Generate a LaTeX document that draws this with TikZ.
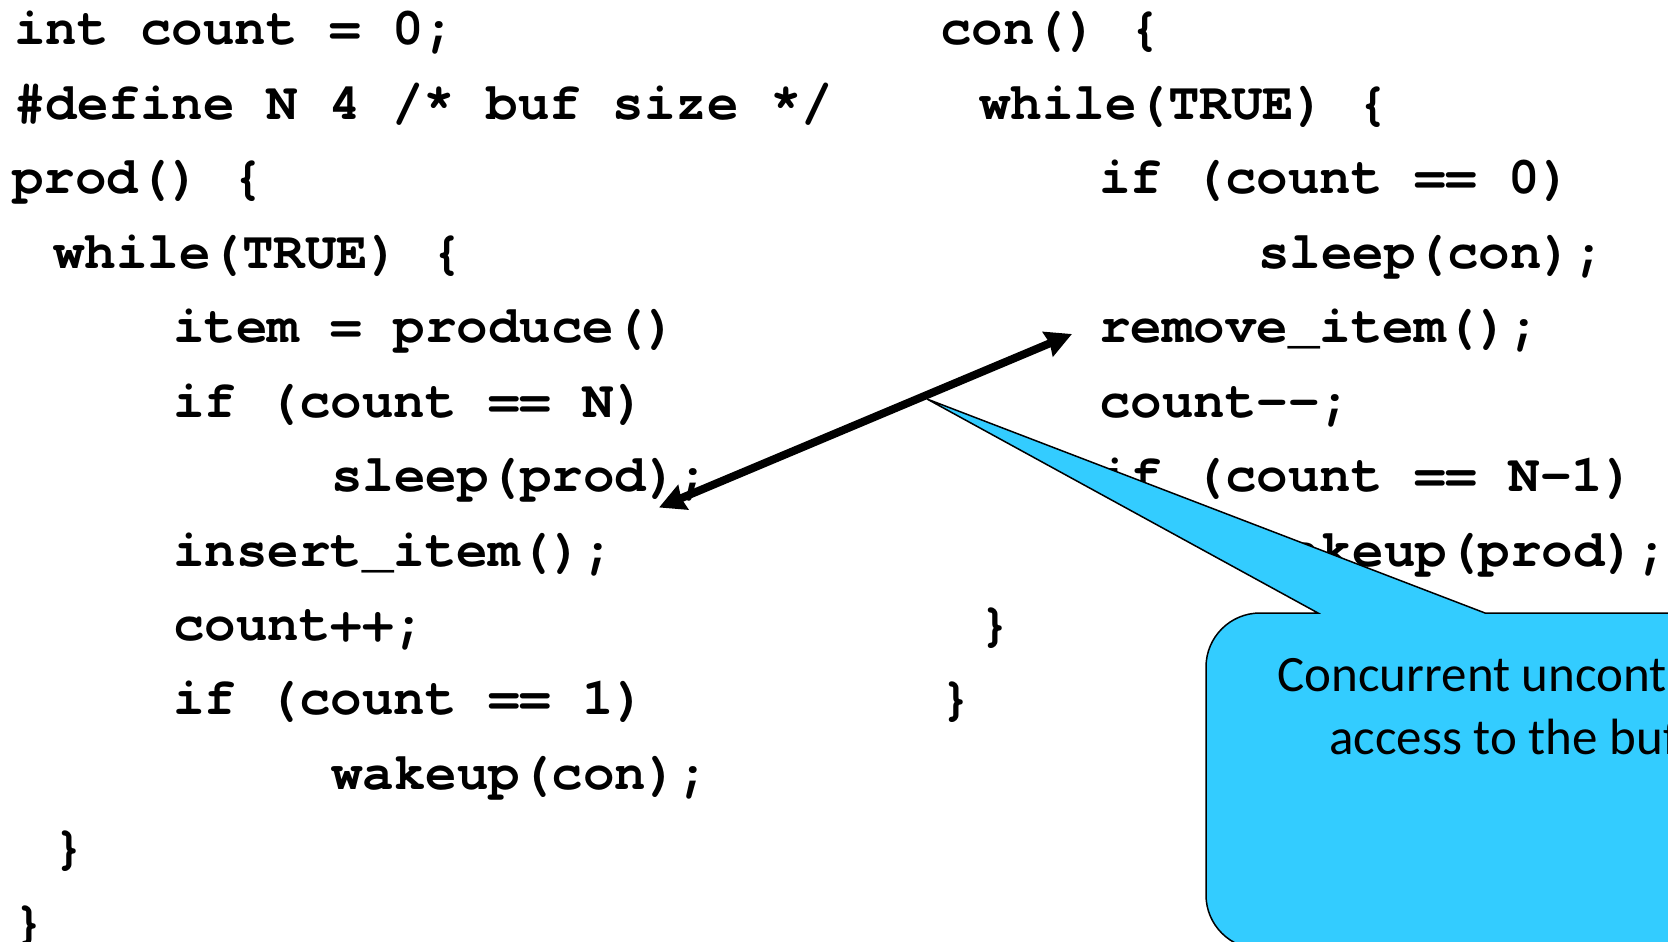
\documentclass[tikz,border=0pt]{standalone}
\usepackage{fontspec}
\newfontfamily\codefont{TeX Gyre Cursor}[Ligatures={NoCommon}]
\newfontfamily\calfont{Carlito}
\usetikzlibrary{arrows.meta}
\definecolor{callblue}{RGB}{51,204,255}
\begin{document}
\begin{tikzpicture}[x=1pt,y=-1pt,
  code/.style={anchor=base west, inner sep=0pt, font=\codefont\bfseries\fontsize{52.5}{62}\selectfont},
  calltext/.style={anchor=base, inner sep=0pt, font=\calfont\fontsize{51}{63}\selectfont},
  callout/.style={fill=callblue, draw=black, line width=1.5pt, line join=miter},
  bigarrow/.style={line width=8pt, {Stealth[length=26pt,width=26pt,inset=2pt]}-{Stealth[length=26pt,width=26pt,inset=2pt]}}]
\useasboundingbox (0,0) rectangle (1668,942);
\clip (0,0) rectangle (1668,942);
% left column
\node[code] (l1) at (14,44.7) {int count = 0;};
\node[code] (l2) at (14,119.2) {\#def{}ine N 4 /* buf size */};
\node[code] (l3) at (12,193.6) {prod() \{};
\node[code] (l4) at (53,268.1) {while(TRUE) \{};
\node[code] (l5) at (173,342.6) {item = produce()};
\node[code] (l6) at (173,417.1) {if (count == N)};
\node[code] (l7) at (331,491.5) {sleep(prod);};
\node[code] (l8) at (173,566.0) {insert\_item();};
\node[code] (l9) at (173,640.5) {count++;};
\node[code] (l10) at (173,714.9) {if (count == 1)};
\node[code] (l11) at (331,789.4) {wakeup(con);};
\node[code] (l12) at (53,863.9) {\}};
\node[code] (l13) at (13,938.3) {\}};
% right column
\node[code] (r1) at (940,44.7) {con() \{};
\node[code] (r2) at (979,119.2) {while(TRUE) \{};
\node[code] (r3) at (1099,193.6) {if (count == 0)};
\node[code] (r4) at (1258,268.1) {sleep(con);};
\node[code] (r5) at (1099,342.6) {remove\_item();};
\node[code] (r6) at (1099,417.1) {count-{}-;};
\node[code] (r7) at (1099,491.5) {if (count == N-1)};
\node[code] (r8) at (1258,566.0) {wakeup(prod);};
\node[code] (r9) at (979,640.5) {\}};
\node[code] (r10) at (940,714.9) {\}};
% callout
\coordinate (tip) at (927,399);
\draw[callout] (tip) -- (1485,613) -- (1950,613) -- (1950,949) -- (1260,949)
  arc[start angle=270, end angle=180, radius=54pt] -- (1206,667)
  arc[start angle=180, end angle=90, radius=54pt] -- (1318,613) -- cycle;
\node[calltext] (c1) at (1532,691) {Concurrent uncontrolled};
\node[calltext] (c2) at (1532,754) {access to the buffer};
% arrow
\coordinate (a1) at (659,507.5);
\coordinate (a2) at (1072,334);
\draw[bigarrow] (a1) -- (a2);
\end{tikzpicture}
\end{document}
